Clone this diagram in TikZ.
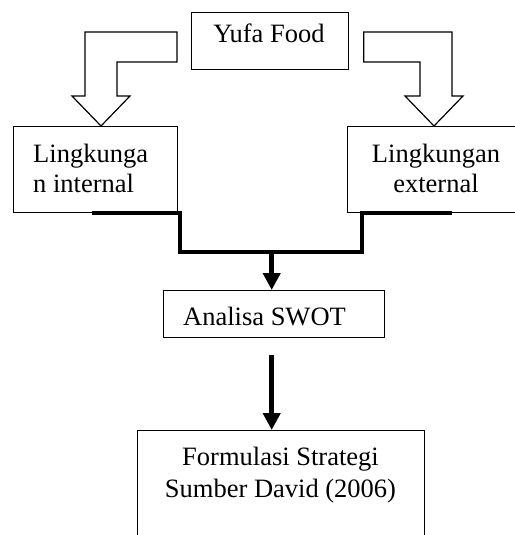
\documentclass[tikz,border=0pt]{standalone}
\usepackage{fontspec}
\setmainfont{Liberation Serif}
\usetikzlibrary{arrows.meta,calc}
\begin{document}
\begin{tikzpicture}[x=1pt,y=-1pt,
  box/.style={draw,line width=1.2pt,inner sep=0pt,anchor=north west},
  txt/.style={inner sep=0pt,anchor=base west,font=\fontsize{26.5}{30}\selectfont},
  ctxt/.style={inner sep=0pt,anchor=base,font=\fontsize{26.5}{30}\selectfont},
  hollow/.style={draw,line width=1.2pt,line join=miter,fill=white},
  conn/.style={draw,line width=4pt,line join=miter},
  arr/.style={draw,line width=5pt,-{Triangle[width=17pt,length=17pt]}}]
\useasboundingbox (0,0) rectangle (514,535);
% boxes
\node[box,minimum width=156.5pt,minimum height=57pt] (yufa) at (191,12) {};
\node[box,minimum width=164pt,minimum height=86pt] (lint) at (13,126) {};
\node[box,minimum width=178pt,minimum height=86pt] (lext) at (347,126) {};
\node[box,minimum width=221pt,minimum height=47pt] (swot) at (163,290) {};
\node[box,minimum width=287pt,minimum height=120pt] (form) at (137,430) {};
% texts
\node[ctxt] (tyufa) at (269,43) {Yufa Food};
\node[txt] (tlint1) at (33,162) {Lingkunga};
\node[txt] (tlint2) at (33,192) {n internal};
\node[ctxt] (tlext1) at (436,162) {Lingkungan};
\node[ctxt] (tlext2) at (436,192) {external};
\node[ctxt] (tswot) at (264.5,325) {Analisa SWOT};
\node[ctxt] (tform1) at (280.5,465) {Formulasi Strategi};
\node[ctxt] (tform2) at (280.5,497) {Sumber David (2006)};
% hollow bent arrows
\draw[hollow] ([xshift=-14pt,yshift=-20pt]yufa.north west) -- (85,32) -- (85,96) -- (72,96)
  -- (101,126) -- (130,96) -- (117,96) -- (117,62) -- ([xshift=-14pt,yshift=-50pt]yufa.north west) -- cycle;
\draw[hollow] ([xshift=15pt,yshift=-20pt]yufa.north east) -- (452,32) -- (452,96) -- (463,96)
  -- (434,126) -- (405,96) -- (420,96) -- (420,62) -- ([xshift=15pt,yshift=-50pt]yufa.north east) -- cycle;
% joining connector
\coordinate (join) at (271.7,252);
\draw[conn] ([xshift=79pt]lint.south west) -- ++(88pt,0) |- (join) -| ([xshift=15pt]lext.south west) -- ++(90pt,0);
\draw[arr] (join) -- (join |- swot.north);
\draw[arr] ([yshift=-17pt]swot.south -| join) -- (join |- form.north);
\end{tikzpicture}
\end{document}
